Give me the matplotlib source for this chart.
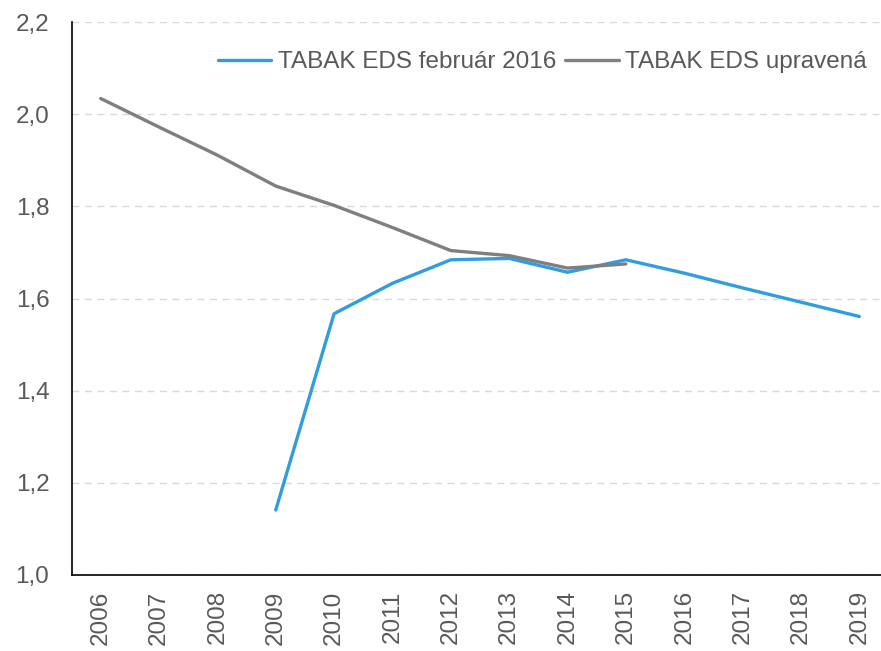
import matplotlib
import matplotlib.pyplot as plt
from matplotlib.ticker import FuncFormatter
import numpy as np

matplotlib.use('Agg')
plt.rcParams['font.family'] = ['Liberation Sans', 'DejaVu Sans']

# Data
years = [str(y) for y in range(2006, 2020)]
eds_feb2016 = [np.nan, np.nan, np.nan, 1.141, 1.567, 1.633, 1.684, 1.687,
               1.657, 1.684, 1.655, 1.623, 1.592, 1.561]
eds_upravena = [2.034, 1.972, 1.911, 1.844, 1.802, 1.754, 1.704, 1.693,
                1.666, 1.675, np.nan, np.nan, np.nan, np.nan]

text_color = '#595959'
fs = 17.5
x = np.arange(len(years))

fig = plt.figure(figsize=(8.81, 6.51), dpi=100)
ax = fig.add_axes([71.5 / 881, 1 - 575 / 651, (888.5 - 71.5) / 881, (575 - 22) / 651])

ax.plot(x, eds_feb2016, color='#309DE0', linewidth=2.4, label='TABAK EDS február 2016',
        solid_capstyle='round', solid_joinstyle='round')
ax.plot(x, eds_upravena, color='#7F7F7F', linewidth=2.4, label='TABAK EDS upravená',
        solid_capstyle='round', solid_joinstyle='round')

ax.set_xlim(-0.5, len(years) - 0.5)
ax.set_ylim(1.0, 2.2)
ax.set_xticks(x)
ax.set_xticklabels(years, rotation=90)
ax.set_yticks(np.arange(1.0, 2.21, 0.2))
ax.yaxis.set_major_formatter(FuncFormatter(lambda v, p: "{:.1f}".format(v).replace('.', ',')))

ax.grid(axis='y', color='#D9D9D9', linestyle=(0, (5, 4)), linewidth=1.0)
ax.set_axisbelow(True)
for s in ['top', 'right']:
    ax.spines[s].set_visible(False)
for s in ['left', 'bottom']:
    ax.spines[s].set_color('black')
    ax.spines[s].set_linewidth(1.2)

ax.tick_params(axis='y', length=0, pad=16, labelsize=fs, labelcolor=text_color)
ax.tick_params(axis='x', length=0, pad=11, labelsize=fs, labelcolor=text_color)

leg = ax.legend(loc='center right', bbox_to_anchor=(867 / 881, 1 - 62 / 651),
                bbox_transform=fig.transFigure,
                ncol=2, frameon=False, fontsize=fs, handlelength=2.2, handletextpad=0.28,
                columnspacing=0.37, borderaxespad=0, borderpad=0)
for t in leg.get_texts():
    t.set_color(text_color)

plt.savefig('out.png', dpi=100)
